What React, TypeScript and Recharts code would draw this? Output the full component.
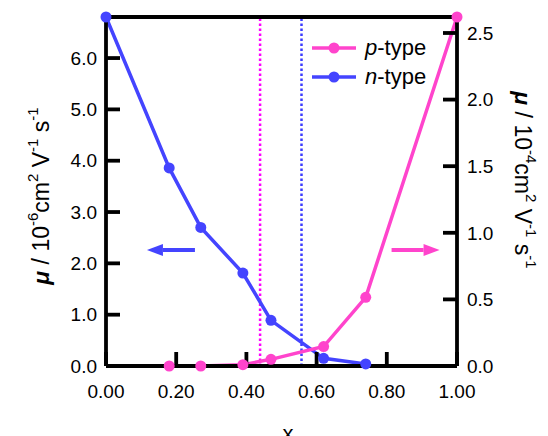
import { Label, Legend, Line, LineChart, ReferenceDot, ReferenceLine, XAxis, YAxis } from "recharts";

const COMPOSITION = [0, 0.18, 0.27, 0.39, 0.47, 0.62, 0.74, 1.0];
const N_TYPE = [6.8, 3.86, 2.7, 1.81, 0.89, 0.15, 0.04, null];
const P_TYPE = [null, 0, 0, 0.01, 0.05, 0.146, 0.516, 2.62];

const X_TICKS = [0, 0.2, 0.4, 0.6, 0.8, 1.0];
const LEFT_TICKS = [0, 1, 2, 3, 4, 5, 6];
const RIGHT_TICKS = [0, 0.5, 1.0, 1.5, 2.0, 2.5];

// dotted guide lines (composition where each type vanishes)
const GUIDES = [
  { x: 0.439, color: "#ff00ff" },
  { x: 0.557, color: "#3b3bff" },
];

const FONT = "'Liberation Sans', Arial, sans-serif";
const BLUE = "#4444ff";
const PINK = "#ff44cc";

const SERIES = [
  { key: "p", label: "p", color: PINK },
  { key: "n", label: "n", color: BLUE },
];

const rows = COMPOSITION.map((x, i) => ({ x, n: N_TYPE[i], p: P_TYPE[i] }));

const axisLine = { stroke: "#000", strokeWidth: 3.8 };
const tickStyle = { fill: "#000", fontSize: 19, fontFamily: FONT };

function AxisTitle({ x, y, angle, exp }: { x: number; y: number; angle: number; exp: string }) {
  const sup = 15;
  const up = 9;
  return (
    <text
      x={x}
      y={y}
      transform={`rotate(${angle}, ${x}, ${y})`}
      textAnchor="middle"
      dominantBaseline="central"
      fontFamily={FONT}
      fontSize={23}
      fill="#000"
    >
      <tspan fontWeight="bold" fontStyle="italic">μ</tspan>
      <tspan> / 10</tspan>
      <tspan fontSize={sup} dy={-up}>{exp}</tspan>
      <tspan dy={up}>cm</tspan>
      <tspan fontSize={sup} dy={-up}>2</tspan>
      <tspan dy={up}> V</tspan>
      <tspan fontSize={sup} dy={-up}>-1</tspan>
      <tspan dy={up}> s</tspan>
      <tspan fontSize={sup} dy={-up}>-1</tspan>
    </text>
  );
}

function Arrow({ cx, cy, dir, color }: { cx?: number; cy?: number; dir: number; color: string }) {
  if (cx == null || cy == null) return <g />;
  const half = 24;
  const tip = cx + dir * half;
  const base = tip - dir * 16;
  return (
    <g>
      <line x1={cx - dir * half} y1={cy} x2={base} y2={cy} stroke={color} strokeWidth={4} />
      <path d={`M${tip},${cy} L${base},${cy - 6} L${base},${cy + 6} Z`} fill={color} />
    </g>
  );
}

function LegendBox() {
  return (
    <div style={{ fontFamily: FONT, fontSize: 22, color: "#000" }}>
      {SERIES.map((s) => (
        <div key={s.key} style={{ display: "flex", alignItems: "center", height: 29 }}>
          <svg width={44} height={14}>
            <line x1={0} x2={44} y1={7} y2={7} stroke={s.color} strokeWidth={3.5} />
            <circle cx={22} cy={7} r={5.5} fill={s.color} />
          </svg>
          <span style={{ marginLeft: 9 }}>
            <i>{s.label}</i>-type
          </span>
        </div>
      ))}
    </div>
  );
}

export default function App() {
  return (
    <LineChart width={540} height={428} data={rows} margin={{ top: 8, right: 0, bottom: 0, left: 0 }}>
      <XAxis
        dataKey="x"
        type="number"
        domain={[0, 1]}
        ticks={X_TICKS}
        tickFormatter={(v: number) => v.toFixed(2)}
        height={70}
        axisLine={axisLine}
        tickLine={axisLine}
        tickSize={-14}
        tickMargin={33}
        tick={tickStyle}
      >
        <Label content={() => <text x={280} y={433} textAnchor="middle" fontFamily={FONT} fontSize={22}>x</text>} />
      </XAxis>
      <XAxis
        xAxisId="top"
        orientation="top"
        dataKey="x"
        type="number"
        domain={[0, 1]}
        ticks={X_TICKS}
        height={1}
        axisLine={axisLine}
        tickLine={axisLine}
        tickSize={-14}
        tick={false}
      />
      <YAxis
        yAxisId="left"
        type="number"
        domain={[0, 6.8]}
        ticks={LEFT_TICKS}
        tickFormatter={(v: number) => v.toFixed(1)}
        width={98}
        axisLine={axisLine}
        tickLine={axisLine}
        tickSize={-14}
        tickMargin={23}
        tick={tickStyle}
      >
        <Label content={() => <AxisTitle x={33} y={188} angle={-90} exp="-6" />} />
      </YAxis>
      <YAxis
        yAxisId="right"
        orientation="right"
        type="number"
        domain={[0, 2.62]}
        ticks={RIGHT_TICKS}
        tickFormatter={(v: number) => v.toFixed(1)}
        width={91}
        axisLine={axisLine}
        tickLine={axisLine}
        tickSize={-14}
        tickMargin={24}
        tick={tickStyle}
      >
        <Label content={() => <AxisTitle x={515} y={172} angle={90} exp="-4" />} />
      </YAxis>

      {GUIDES.map((g) => (
        <ReferenceLine
          key={g.x}
          x={g.x}
          yAxisId="left"
          stroke={g.color}
          strokeWidth={2.5}
          strokeDasharray="2.5 2.5"
        />
      ))}

      <ReferenceDot yAxisId="left" x={0.185} y={2.26} shape={(p: any) => <Arrow cx={p.cx} cy={p.cy} dir={-1} color={BLUE} />} />
      <ReferenceDot yAxisId="left" x={0.882} y={2.26} shape={(p: any) => <Arrow cx={p.cx} cy={p.cy} dir={1} color={PINK} />} />

      <Line
        yAxisId="left"
        dataKey="n"
        stroke={BLUE}
        strokeWidth={3.5}
        dot={{ r: 5.5, fill: BLUE, stroke: BLUE, strokeWidth: 0 }}
        activeDot={false}
        isAnimationActive={false}
      />
      <Line
        yAxisId="right"
        dataKey="p"
        stroke={PINK}
        strokeWidth={3.5}
        dot={{ r: 5.5, fill: PINK, stroke: PINK, strokeWidth: 0 }}
        activeDot={false}
        isAnimationActive={false}
      />
      <Legend
        layout="vertical"
        align="center"
        verticalAlign="middle"
        content={() => <LegendBox />}
        wrapperStyle={{ top: 25, left: 304, width: "auto" }}
      />
    </LineChart>
  );
}
